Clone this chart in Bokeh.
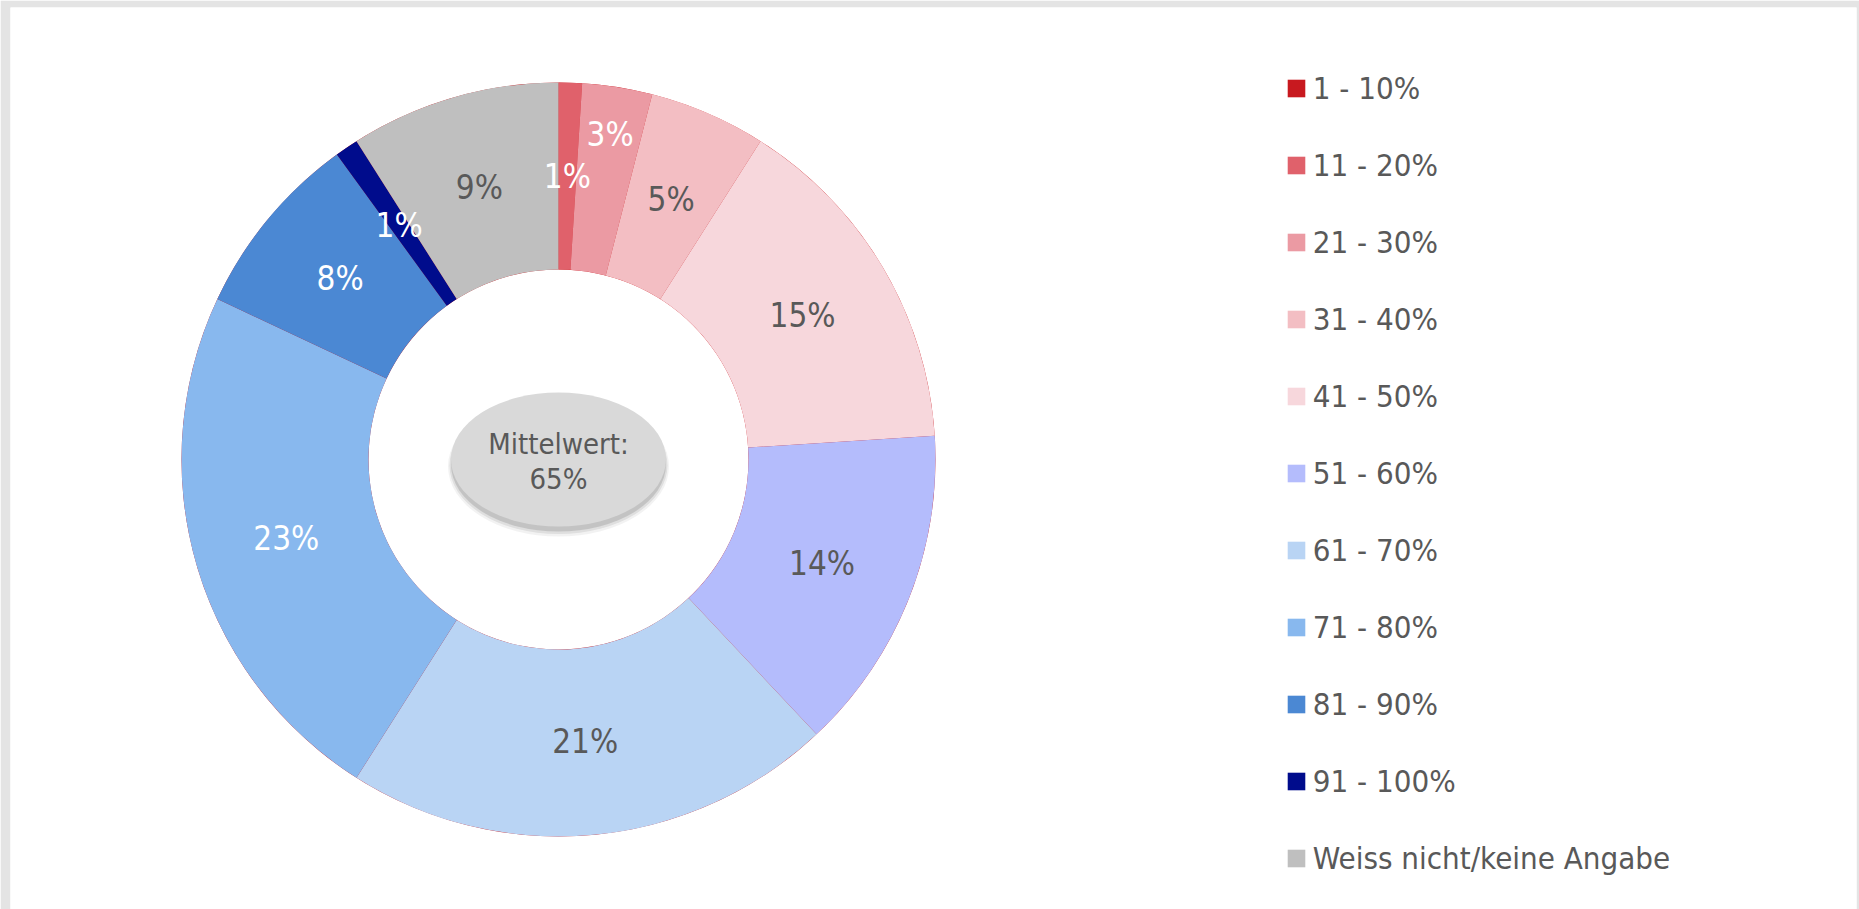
import math
from bokeh.plotting import figure
from bokeh.models import ColumnDataSource, Range1d, Legend, LegendItem
from bokeh.core.properties import value
from bokeh.embed import file_html
from bokeh.resources import INLINE

# ---- data ----
categories = ["1 - 10%", "11 - 20%", "21 - 30%", "31 - 40%", "41 - 50%",
              "51 - 60%", "61 - 70%", "71 - 80%", "81 - 90%", "91 - 100%",
              "Weiss nicht/keine Angabe"]
values = [0, 1, 3, 5, 15, 14, 21, 23, 8, 1, 9]
mean_label = "Mittelwert:"
mean_value = "65%"

# ---- styles ----
colors = ["#c8191f", "#e0616b", "#eb9aa3", "#f3bec3", "#f7d7dc",
          "#b4bcfc", "#b9d4f4", "#88b8ee", "#4b88d3", "#000c8c", "#bfbfbf"]
label_colors = ["#ffffff", "#ffffff", "#ffffff", "#595959", "#595959",
                "#595959", "#595959", "#ffffff", "#ffffff", "#ffffff", "#595959"]
FONT_NAME = "'DejaVu Sans Condensed', 'DejaVu Sans'"
FONT = value(FONT_NAME)
GRAY = "#595959"

W, H = 1859, 909
ML, MT, MR = 10, 7, 3       # gray page frame
FW, FH = W - ML - MR, H - MT
CX, CY = 558, 459           # donut center in page pixels
R_OUT, R_IN = 377, 190

total = float(sum(values))
starts, ends, mids = [], [], []
cum = 0.0
for v in values:
    a0 = math.pi / 2 - 2 * math.pi * cum / total
    cum += v
    a1 = math.pi / 2 - 2 * math.pi * cum / total
    starts.append(a1)
    ends.append(a0)
    mids.append((a0 + a1) / 2)

src = ColumnDataSource(dict(cat=categories, val=values, start=starts, end=ends, color=colors))

p = figure(width=W, height=H, output_backend="svg", toolbar_location=None,
           x_range=Range1d(ML - CX, ML + FW - CX), y_range=Range1d(CY - MT - FH, CY - MT),
           min_border_left=ML, min_border_top=MT, min_border_right=MR, min_border_bottom=0,
           outline_line_color=None, background_fill_color="white",
           border_fill_color="#e4e4e4")
p.axis.visible = False
p.grid.visible = False

wedges = p.annular_wedge(x=0, y=0, inner_radius=R_IN, outer_radius=R_OUT,
                         start_angle="start", end_angle="end", direction="anticlock",
                         fill_color="color", line_color=None, source=src)

# data labels
r_mid = (R_IN + R_OUT) / 2
lx, ly, lt, lc = [], [], [], []
for i, v in enumerate(values):
    if v <= 0:
        continue
    r = r_mid + (46 if categories[i] == "21 - 30%" else 0)
    lx.append(r * math.cos(mids[i]))
    ly.append(r * math.sin(mids[i]))
    lt.append(f"{v}%")
    lc.append(label_colors[i])
p.text(x=lx, y=ly, text=lt, text_color=lc, text_font=FONT, text_font_size="33px",
       text_align="center", text_baseline="middle")

# center ellipse with soft shadow
for dy, grow, alpha in [(-7, 6, 0.05), (-6, 3, 0.08), (-5, 0, 0.12)]:
    p.ellipse(x=0, y=dy, width=215 + grow, height=134 + grow, fill_color="#000000",
              fill_alpha=alpha, line_color=None)
p.ellipse(x=0, y=0, width=215, height=134, fill_color="#d9d9d9", line_color=None)
p.text(x=[0, 0], y=[16, -19], text=[mean_label, mean_value], text_color=GRAY,
       text_font=FONT, text_font_size="29px", text_align="center", text_baseline="middle")

# legend
items = [LegendItem(label=c, renderers=[wedges], index=i) for i, c in enumerate(categories)]
row_h = 36
spacing = 41
leg_h = len(categories) * row_h + (len(categories) - 1) * spacing
top_px = 87.7 - row_h / 2            # page y of legend top
glyph_box = 22.5                     # drawn square is 80% of the box -> 18px
legend = Legend(items=items,
                location=(1287 - glyph_box * 0.1 - ML, FH - (top_px - MT) - leg_h),
                glyph_width=22, glyph_height=22, label_standoff=6, spacing=spacing,
                label_height=row_h, padding=0, margin=0,
                label_text_font=FONT_NAME, label_text_font_size="31px", label_text_color=GRAY,
                border_line_color=None, background_fill_alpha=0)
p.add_layout(legend, "center")

open("out.html", "w").write(file_html(p, INLINE))
